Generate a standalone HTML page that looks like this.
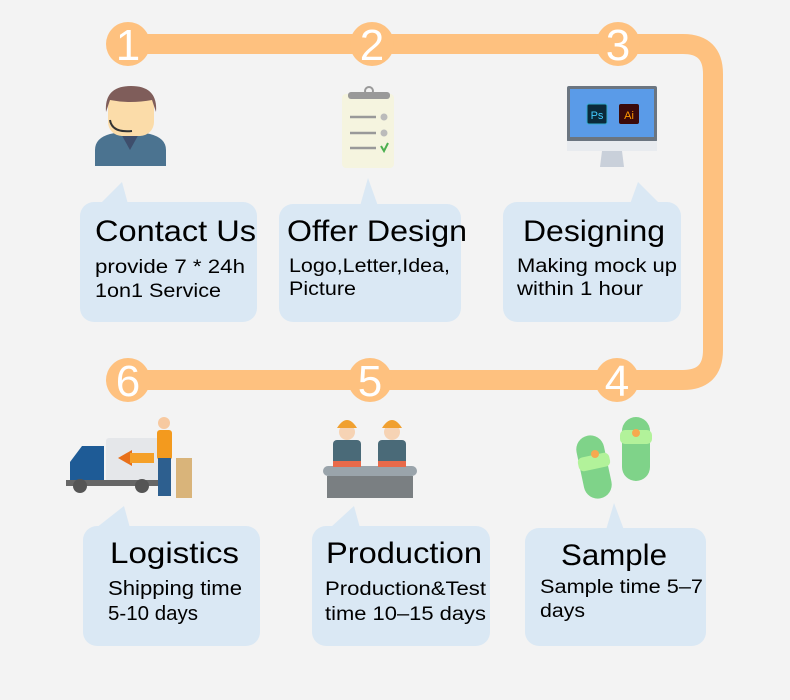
<!DOCTYPE html>
<html><head><meta charset="utf-8"><style>
body{margin:0;background:#f3f3f3;}
svg{display:block}
text{font-family:"Liberation Sans","DejaVu Sans",sans-serif;}
</style></head><body>
<svg width="790" height="700" viewBox="0 0 790 700" xmlns="http://www.w3.org/2000/svg">
<rect width="790" height="700" fill="#f3f3f3"/>
<path d="M128 44 H683 Q713 44 713 74 V350 Q713 380 683 380 H128" fill="none" stroke="#fec17f" stroke-width="20"/>
<g fill="#fec17f">
<circle cx="128" cy="44" r="22"/><circle cx="372" cy="44" r="22"/><circle cx="618" cy="44" r="22"/>
<circle cx="128" cy="380" r="22"/><circle cx="370" cy="380" r="22"/><circle cx="617" cy="380" r="22"/>
</g>
<g fill="#fff" font-size="44" text-anchor="middle">
<text x="128" y="60">1</text><text x="372" y="60">2</text><text x="618" y="60">3</text>
<text x="128" y="396">6</text><text x="370" y="396">5</text><text x="617" y="396">4</text>
</g>
<g fill="#dae8f4">
<rect x="80" y="202" width="177" height="120" rx="14"/><polygon points="100,204 122,182 128,204"/>
<rect x="279" y="204" width="182" height="118" rx="14"/><polygon points="360,206 368,178 378,206"/>
<rect x="503" y="202" width="178" height="120" rx="14"/><polygon points="630,204 638,182 660,204"/>
<rect x="83" y="526" width="177" height="120" rx="14"/><polygon points="96,528 124,506 130,528"/>
<rect x="312" y="526" width="178" height="120" rx="14"/><polygon points="330,528 354,506 360,528"/>
<rect x="525" y="528" width="181" height="118" rx="14"/><polygon points="606,530 614,503 624,530"/>
</g>
<g fill="#000" lengthAdjust="spacingAndGlyphs">
<text x="95" y="241" font-size="30" textLength="161" lengthAdjust="spacingAndGlyphs">Contact Us</text>
<text x="95" y="273" font-size="19" textLength="150" lengthAdjust="spacingAndGlyphs">provide 7 * 24h</text>
<text x="95" y="297" font-size="19" textLength="126" lengthAdjust="spacingAndGlyphs">1on1 Service</text>
<text x="287" y="241" font-size="30" textLength="180" lengthAdjust="spacingAndGlyphs">Offer Design</text>
<text x="289" y="272" font-size="19" textLength="161" lengthAdjust="spacingAndGlyphs">Logo,Letter,Idea,</text>
<text x="289" y="295" font-size="19" textLength="67" lengthAdjust="spacingAndGlyphs">Picture</text>
<text x="523" y="241" font-size="30" textLength="142" lengthAdjust="spacingAndGlyphs">Designing</text>
<text x="517" y="272" font-size="19" textLength="160" lengthAdjust="spacingAndGlyphs">Making mock up</text>
<text x="517" y="295" font-size="19" textLength="126" lengthAdjust="spacingAndGlyphs">within 1 hour</text>
<text x="110" y="563" font-size="30" textLength="129" lengthAdjust="spacingAndGlyphs">Logistics</text>
<text x="108" y="595" font-size="20" textLength="134" lengthAdjust="spacingAndGlyphs">Shipping time</text>
<text x="108" y="620" font-size="20" textLength="90" lengthAdjust="spacingAndGlyphs">5-10 days</text>
<text x="326" y="563" font-size="30" textLength="156" lengthAdjust="spacingAndGlyphs">Production</text>
<text x="325" y="595" font-size="19" textLength="161" lengthAdjust="spacingAndGlyphs">Production&amp;Test</text>
<text x="325" y="620" font-size="19" textLength="161" lengthAdjust="spacingAndGlyphs">time 10–15 days</text>
<text x="561" y="565" font-size="30" textLength="106" lengthAdjust="spacingAndGlyphs">Sample</text>
<text x="540" y="593" font-size="19" textLength="163" lengthAdjust="spacingAndGlyphs">Sample time 5–7</text>
<text x="540" y="617" font-size="19" textLength="45" lengthAdjust="spacingAndGlyphs">days</text>
</g>
<path d="M95 166 V150 Q95 138 110 134 L130 130 L150 134 Q166 138 166 150 V166 Z" fill="#4b7390"/>
<path d="M120 132 L130 150 L140 132 Z" fill="#3e4e6c"/>
<rect x="108" y="92" width="46" height="44" rx="14" fill="#fbdca9"/>
<path d="M106 112 Q104 86 131 86 Q158 86 156 112 L152 100 Q130 104 110 100 Z" fill="#7f5d5a"/>
<path d="M110 120 Q112 133 132 131" fill="none" stroke="#333" stroke-width="2"/>
<rect x="342" y="94" width="52" height="74" rx="4" fill="#f5f4df"/>
<rect x="348" y="92" width="42" height="7" rx="3" fill="#999"/>
<circle cx="369" cy="91" r="4" fill="none" stroke="#999" stroke-width="2"/>
<g stroke="#999" stroke-width="2.5"><line x1="350" y1="117" x2="376" y2="117"/><line x1="350" y1="133" x2="376" y2="133"/><line x1="350" y1="148" x2="376" y2="148"/></g>
<circle cx="384" cy="117" r="3.5" fill="#bbb"/><circle cx="384" cy="133" r="3.5" fill="#bbb"/>
<path d="M381 146 L384 151 L388 143" fill="none" stroke="#4caf50" stroke-width="2"/>
<rect x="567" y="86" width="90" height="56" rx="2" fill="#6b7580"/>
<rect x="570" y="89" width="84" height="48" fill="#5a9be8"/>
<rect x="567" y="141" width="90" height="10" fill="#e8ebef"/>
<polygon points="602,151 622,151 624,167 600,167" fill="#c9d0da"/>
<rect x="587" y="104" width="20" height="20" rx="2" fill="#0b2a3a" stroke="#3ac" stroke-width="1"/>
<text x="597" y="119" font-size="11" fill="#4cf" text-anchor="middle">Ps</text>
<rect x="619" y="104" width="20" height="20" rx="2" fill="#3b0a0a"/>
<text x="629" y="119" font-size="11" fill="#ff9a00" text-anchor="middle">Ai</text>
<rect x="106" y="438" width="60" height="44" rx="3" fill="#e5e7ea"/>
<path d="M70 482 V462 L82 446 H104 V482 Z" fill="#1e5b96"/>
<rect x="66" y="480" width="100" height="6" fill="#666"/>
<circle cx="80" cy="486" r="7" fill="#555"/><circle cx="142" cy="486" r="7" fill="#555"/>
<polygon points="118,458 132,450 132,466" fill="#e8701a"/><rect x="130" y="453" width="24" height="10" fill="#f5a028"/>
<rect x="157" y="430" width="15" height="30" rx="3" fill="#f39a1e"/>
<rect x="158" y="458" width="13" height="38" fill="#2d5f8f"/>
<circle cx="164" cy="423" r="6" fill="#f7c9a0"/>
<rect x="176" y="458" width="16" height="40" fill="#d9b47a"/>
<rect x="323" y="466" width="94" height="10" rx="5" fill="#9aa4ab"/>
<rect x="327" y="476" width="86" height="22" fill="#7a7f82"/>
<rect x="333" y="440" width="28" height="26" rx="4" fill="#4a6a78"/>
<rect x="378" y="440" width="28" height="26" rx="4" fill="#4a6a78"/>
<rect x="333" y="461" width="28" height="6" fill="#e86a4a"/><rect x="378" y="461" width="28" height="6" fill="#e86a4a"/>
<circle cx="347" cy="432" r="8" fill="#f6d3b4"/><circle cx="392" cy="432" r="8" fill="#f6d3b4"/>
<path d="M337 428 Q347 412 357 428 Z" fill="#f0a030"/><path d="M382 428 Q392 412 402 428 Z" fill="#f0a030"/>
<rect x="580" y="435" width="28" height="64" rx="14" fill="#7fd389" transform="rotate(-12 594 467)"/>
<rect x="622" y="417" width="28" height="64" rx="14" fill="#7fd389"/>
<rect x="578" y="455" width="32" height="14" rx="5" fill="#b2f29a" transform="rotate(-12 594 462)"/>
<rect x="620" y="430" width="32" height="14" rx="5" fill="#b2f29a"/>
<circle cx="595" cy="454" r="4" fill="#f6a94f"/><circle cx="636" cy="433" r="4" fill="#f6a94f"/>
</svg>
</body></html>
